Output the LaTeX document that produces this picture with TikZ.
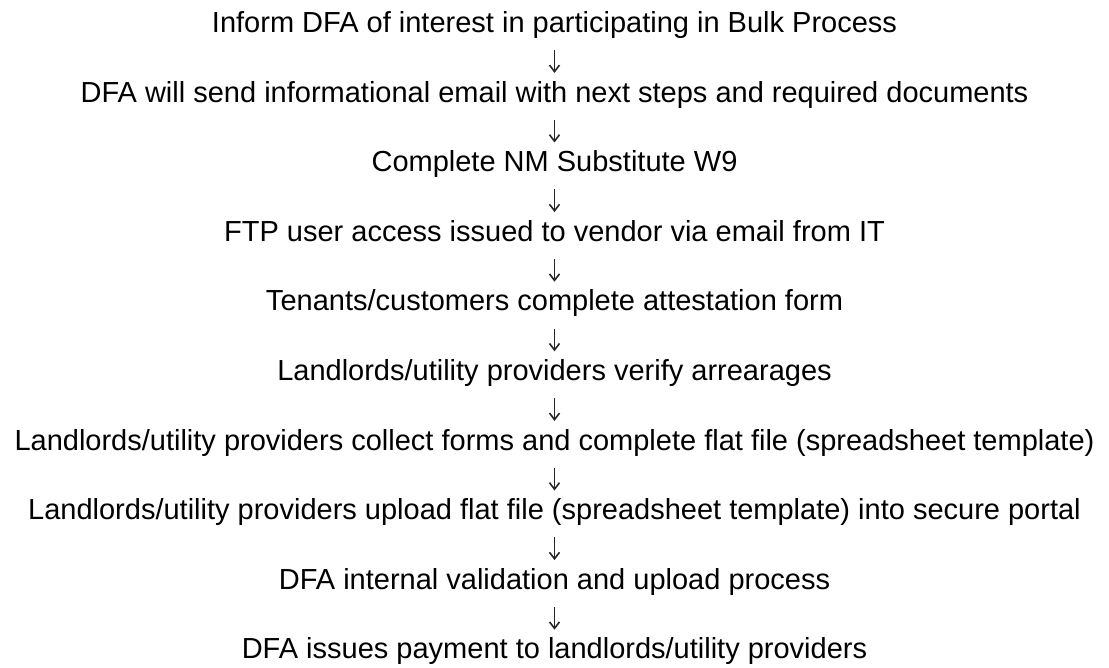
\documentclass[tikz,border=0pt]{standalone}
\usepackage{fontspec}
\setmainfont{Liberation Sans}
\usetikzlibrary{arrows.meta}
\begin{document}
\begin{tikzpicture}[x=1pt,y=1pt,
  steptext/.style={anchor=base, inner sep=0pt, text height=21pt, text depth=6pt,
    font=\fontsize{29}{34}\selectfont},
  flowarrow/.style={draw=black!85, line width=1.6pt, xshift=2.5pt,
    -{Straight Barb[length=6.5pt,width=10pt,line width=1.6pt]},
    shorten <=11.5pt, shorten >=8pt}]
\useasboundingbox (0,0) rectangle (1109,-668);
\def\cx{554.5}
\node[steptext] (s1) at (\cx,-32.5) {Inform DFA of interest in participating in Bulk Process};
\node[steptext] (s2) at (\cx,-102.1) {DFA will send informational email with next steps and required documents};
\node[steptext] (s3) at (\cx,-171.7) {Complete NM Substitute W9};
\node[steptext] (s4) at (\cx,-241.3) {FTP user access issued to vendor via email from IT};
\node[steptext] (s5) at (\cx,-310.9) {Tenants/customers complete attestation form};
\node[steptext] (s6) at (\cx,-380.5) {Landlords/utility providers verify arrearages};
\node[steptext] (s7) at (\cx,-450.1) {Landlords/utility providers collect forms and complete flat file (spreadsheet template)};
\node[steptext] (s8) at (\cx,-519.7) {Landlords/utility providers upload flat file (spreadsheet template) into secure portal};
\node[steptext] (s9) at (\cx,-589.3) {DFA internal validation and upload process};
\node[steptext] (s10) at (\cx,-658.9) {DFA issues payment to landlords/utility providers};
\foreach \i [evaluate=\i as \j using int(\i+1)] in {1,...,9}{
  \draw[flowarrow] (s\i) -- (s\j);
}
\end{tikzpicture}
\end{document}
